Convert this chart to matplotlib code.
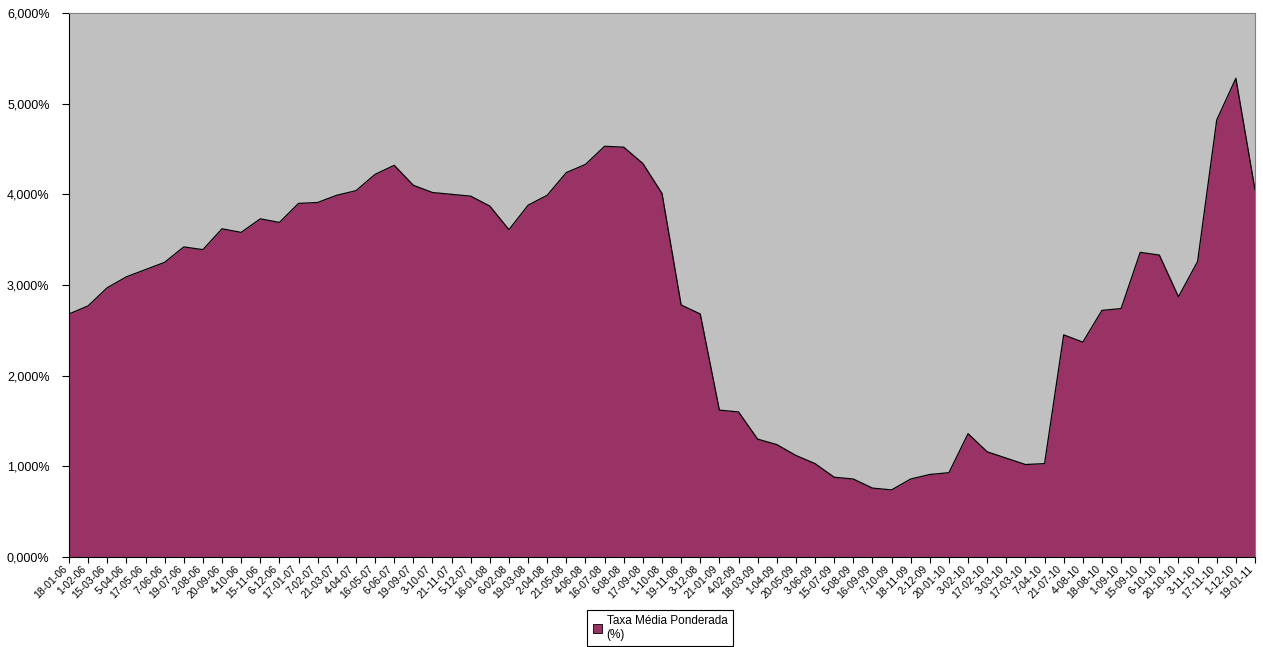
import matplotlib.pyplot as plt
import matplotlib.transforms as mtransforms
from matplotlib.patches import Patch
from matplotlib.ticker import FuncFormatter, MultipleLocator

plt.rcParams['font.family'] = ['Liberation Sans', 'DejaVu Sans']

dates = ['18-01-06', '1-02-06', '15-03-06', '5-04-06', '17-05-06', '7-06-06',
         '19-07-06', '2-08-06', '20-09-06', '4-10-06', '15-11-06', '6-12-06',
         '17-01-07', '7-02-07', '21-03-07', '4-04-07', '16-05-07', '6-06-07',
         '19-09-07', '3-10-07', '21-11-07', '5-12-07', '16-01-08', '6-02-08',
         '19-03-08', '2-04-08', '21-05-08', '4-06-08', '16-07-08', '6-08-08',
         '17-09-08', '1-10-08', '19-11-08', '3-12-08', '21-01-09', '4-02-09',
         '18-03-09', '1-04-09', '20-05-09', '3-06-09', '15-07-09', '5-08-09',
         '16-09-09', '7-10-09', '18-11-09', '2-12-09', '20-01-10', '3-02-10',
         '17-02-10', '3-03-10', '17-03-10', '7-04-10', '21-07-10', '4-08-10',
         '18-08-10', '1-09-10', '15-09-10', '6-10-10', '20-10-10', '3-11-10',
         '17-11-10', '1-12-10', '19-01-11']

taxa = [2.68, 2.77, 2.97, 3.09, 3.17, 3.25, 3.42, 3.39, 3.62, 3.58,
        3.73, 3.69, 3.90, 3.91, 3.99, 4.04, 4.22, 4.32, 4.10, 4.02,
        4.00, 3.98, 3.87, 3.61, 3.88, 3.99, 4.24, 4.33, 4.53, 4.52,
        4.34, 4.01, 2.78, 2.68, 1.62, 1.60, 1.30, 1.24, 1.12, 1.03,
        0.88, 0.86, 0.76, 0.74, 0.86, 0.91, 0.93, 1.36, 1.16, 1.09,
        1.02, 1.03, 2.45, 2.37, 2.72, 2.74, 3.36, 3.33, 2.87, 3.26,
        4.82, 5.28, 4.05]

fig = plt.figure(figsize=(12.63, 6.47), dpi=100)
ax = fig.add_axes([69 / 1263, 90 / 647, 1186 / 1263, 544 / 647])
ax.set_facecolor('#C0C0C0')

x = list(range(len(taxa)))
ax.fill_between(x, 0, taxa, color='#993366', linewidth=0)
ax.plot(x, taxa, color='black', linewidth=0.9)

ax.set_xlim(0, len(taxa) - 1)
ax.set_ylim(0, 6)
ax.yaxis.set_major_locator(MultipleLocator(1))
ax.yaxis.set_major_formatter(FuncFormatter(lambda v, p: f"{v:.3f}%".replace('.', ',')))

# ticks at every point, labels sit one slot to the left (as in the original)
ax.set_xticks(x)
ax.set_xticklabels(dates, rotation=45, ha='right', va='top', fontsize=7.5)
shift = mtransforms.ScaledTranslation(-1186 / (len(taxa) - 1) / 100, 0, fig.dpi_scale_trans)
for lab in ax.get_xticklabels():
    lab.set_transform(lab.get_transform() + shift)

ax.tick_params(axis='x', length=4, width=0.8, pad=1, color='black')
ax.tick_params(axis='y', length=5, width=0.8, pad=9, labelsize=9)

for s in ['top', 'right']:
    ax.spines[s].set_color('#808080')
    ax.spines[s].set_linewidth(0.8)
for s in ['left', 'bottom']:
    ax.spines[s].set_color('black')
    ax.spines[s].set_linewidth(0.8)

handle = Patch(facecolor='#993366', edgecolor='black', linewidth=0.6)
leg = fig.legend([handle], ['Taxa Média Ponderada\n(%)'],
                 loc='center', bbox_to_anchor=(660 / 1263, 1 - 628 / 647),
                 fancybox=False, edgecolor='black', framealpha=1,
                 fontsize=8.5, handlelength=0.8, handleheight=0.8,
                 handletextpad=0.4, borderpad=0.45, borderaxespad=0)
leg.get_frame().set_linewidth(0.8)

fig.savefig('out.png', dpi=100)
